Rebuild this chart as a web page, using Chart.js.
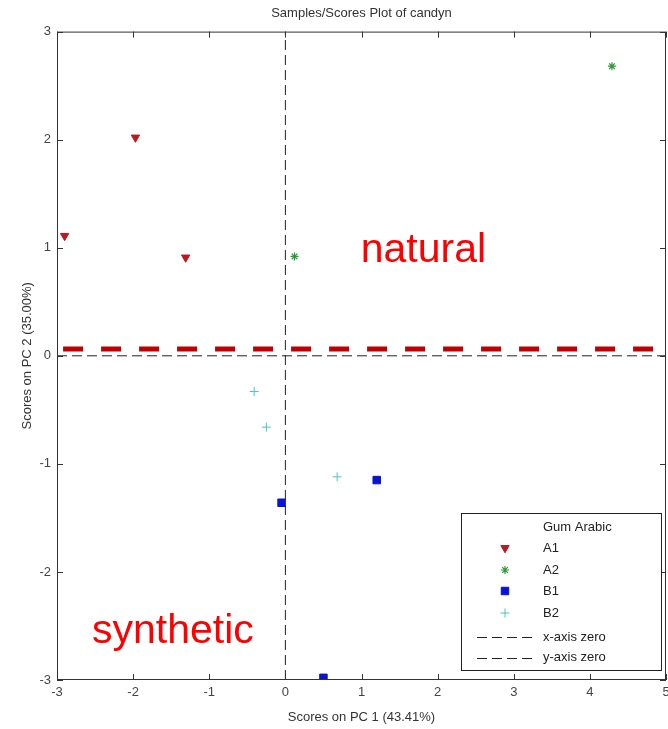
<!DOCTYPE html>
<html>
<head>
<meta charset="utf-8">
<script src="https://cdn.jsdelivr.net/npm/chart.js@4.4.1/dist/chart.umd.min.js"></script>
<style>
  body { margin: 0; background: #ffffff; }
  canvas { display: block; }
</style>
</head>
<body>
<canvas id="grafica" width="668" height="729"></canvas>
<script>
// Datos
const a1X = [-2.90, -1.97, -1.31];
const a1Y = [1.11, 2.02, 0.91];
const a2X = [0.12, 4.29];
const a2Y = [0.92, 2.68];
const b1X = [-0.05, 1.20, 0.50];
const b1Y = [-1.36, -1.15, -2.98];
const b2X = [-0.41, -0.25, 0.68];
const b2Y = [-0.33, -0.66, -1.12];

const xTicks = [-3, -2, -1, 0, 1, 2, 3, 4, 5];
const yTicks = [-3, -2, -1, 0, 1, 2, 3];

// línea roja que separa natural / sintético
const divisorX = [-2.92, 4.89];
const divisorY = 0.063;

const legendTitle = 'Gum Arabic';
const notas = [
    { texto: 'natural', x: 0.99, y: 0.87 },
    { texto: 'synthetic', x: -2.54, y: -2.66 }
];

const FUENTE = '"Liberation Sans", Arial, sans-serif';
Chart.defaults.font.family = FUENTE;

// Función para juntar arreglos x / y en puntos
function puntos(xs, ys) {
    return xs.map((x, i) => ({ x: x, y: ys[i] }));
}

const ctx = document.getElementById('grafica').getContext('2d');

// Plugin: marco, marcas hacia adentro, textos y leyenda estilo Matlab
const estiloMatlab = {
    id: 'estiloMatlab',
    afterDatasetsDraw(chart) {
        const c = chart.ctx;
        const area = chart.chartArea;
        const sx = chart.scales.x;
        const sy = chart.scales.y;

        // textos rojos
        c.save();
        c.fillStyle = '#ff0000';
        c.font = '41px ' + FUENTE;
        c.textBaseline = 'alphabetic';
        c.textAlign = 'left';
        notas.forEach(n => {
            c.fillText(n.texto, sx.getPixelForValue(n.x), sy.getPixelForValue(n.y));
        });
        c.restore();

        // marco y marcas
        c.save();
        c.strokeStyle = '#333333';
        c.lineWidth = 1;
        c.strokeRect(area.left + 0.5, area.top + 0.5, area.right - area.left - 1, area.bottom - area.top - 1);
        c.beginPath();
        xTicks.forEach(v => {
            const px = Math.round(sx.getPixelForValue(v)) + 0.5;
            c.moveTo(px, area.bottom); c.lineTo(px, area.bottom - 6);
            c.moveTo(px, area.top); c.lineTo(px, area.top + 6);
        });
        yTicks.forEach(v => {
            const py = Math.round(sy.getPixelForValue(v)) + 0.5;
            c.moveTo(area.left, py); c.lineTo(area.left + 6, py);
            c.moveTo(area.right, py); c.lineTo(area.right - 6, py);
        });
        c.stroke();
        c.restore();

        // leyenda
        const caja = { left: 461, top: 513, right: 662, bottom: 671 };
        c.save();
        c.fillStyle = '#ffffff';
        c.fillRect(caja.left, caja.top, caja.right - caja.left, caja.bottom - caja.top);
        c.strokeStyle = '#222222';
        c.lineWidth = 1;
        c.strokeRect(caja.left + 0.5, caja.top + 0.5, caja.right - caja.left - 1, caja.bottom - caja.top - 1);
        c.font = '13px ' + FUENTE;
        c.fillStyle = '#222222';
        c.textBaseline = 'middle';
        c.textAlign = 'left';
        c.fillText(legendTitle, 543, 527);

        const filas = [548, 570, 591, 613, 637, 657.5];
        let k = 0;
        chart.data.datasets.forEach(ds => {
            if (!ds.enLeyenda) return;
            const yy = filas[k++];
            if (ds.showLine) {
                c.save();
                c.strokeStyle = ds.borderColor;
                c.lineWidth = ds.borderWidth;
                c.setLineDash(ds.borderDash || []);
                c.beginPath();
                c.moveTo(477, Math.round(yy) + 0.5);
                c.lineTo(533, Math.round(yy) + 0.5);
                c.stroke();
                c.restore();
            } else {
                c.save();
                c.fillStyle = ds.pointBackgroundColor;
                c.strokeStyle = ds.pointBorderColor;
                c.lineWidth = ds.pointBorderWidth;
                Chart.helpers.drawPoint(c, {
                    pointStyle: ds.pointStyle,
                    rotation: ds.pointRotation || 0,
                    radius: ds.pointRadius,
                    borderWidth: ds.pointBorderWidth
                }, 505, yy);
                c.restore();
            }
            c.fillStyle = '#222222';
            c.fillText(ds.label, 543, yy);
        });
        c.restore();
    }
};

function serieMarcador(label, xs, ys, estilo, color, radio, rotacion, borde) {
    return {
        label: label,
        data: puntos(xs, ys),
        showLine: false,
        pointStyle: estilo,
        pointRotation: rotacion,
        pointRadius: radio,
        pointBackgroundColor: color,
        pointBorderColor: color,
        pointBorderWidth: borde,
        enLeyenda: true
    };
}

const chart = new Chart(ctx, {
    type: 'scatter',
    data: {
        datasets: [
            {
                label: 'divisor',
                data: puntos(divisorX, [divisorY, divisorY]),
                showLine: true,
                borderColor: '#c00000',
                borderWidth: 5,
                borderDash: [20, 18],
                pointRadius: 0,
                enLeyenda: false
            },
            serieMarcador('A1', a1X, a1Y, 'triangle', '#b81a22', 4.8, 180, 1),
            serieMarcador('A2', a2X, a2Y, 'star', '#2e9a3a', 4, 0, 1.2),
            serieMarcador('B1', b1X, b1Y, 'rect', '#0a14d2', 5.3, 0, 1),
            serieMarcador('B2', b2X, b2Y, 'cross', '#4cc4c4', 4.5, 0, 1),
            {
                label: 'x-axis zero',
                data: [{ x: xTicks[0], y: 0 }, { x: xTicks[xTicks.length - 1], y: 0 }],
                showLine: true,
                borderColor: '#222222',
                borderWidth: 1,
                borderDash: [10, 5],
                pointRadius: 0,
                enLeyenda: true
            },
            {
                label: 'y-axis zero',
                data: [{ x: 0, y: yTicks[0] }, { x: 0, y: yTicks[yTicks.length - 1] }],
                showLine: true,
                borderColor: '#222222',
                borderWidth: 1,
                borderDash: [10, 5],
                pointRadius: 0,
                enLeyenda: true
            }
        ]
    },
    options: {
        responsive: false,
        animation: false,
        layout: { autoPadding: false, padding: { left: 0, right: 2, top: 0, bottom: 0 } },
        plugins: {
            legend: { display: false },
            tooltip: { enabled: false },
            title: {
                display: true,
                text: 'Samples/Scores Plot of candyn',
                fullSize: false,
                color: '#333333',
                font: { size: 13, weight: 'normal' },
                padding: { top: 6, bottom: 10 }
            }
        },
        scales: {
            x: {
                type: 'linear',
                min: xTicks[0],
                max: xTicks[xTicks.length - 1],
                afterBuildTicks: (s) => { s.ticks = xTicks.map(v => ({ value: v })); },
                ticks: {
                    color: '#444444',
                    font: { size: 13 },
                    padding: 5,
                    maxRotation: 0,
                    callback: (v) => String(v)
                },
                grid: { display: false, drawTicks: false },
                border: { display: false },
                title: {
                    display: true,
                    text: 'Scores on PC 1 (43.41%)',
                    color: '#333333',
                    font: { size: 13 },
                    padding: { top: 0, bottom: 4 }
                },
                afterFit: (s) => {
                    s.height = 49;
                    s.paddingLeft = 0; s.paddingRight = 0;
                }
            },
            y: {
                type: 'linear',
                min: yTicks[0],
                max: yTicks[yTicks.length - 1],
                afterBuildTicks: (s) => { s.ticks = yTicks.map(v => ({ value: v })); },
                ticks: {
                    color: '#444444',
                    font: { size: 13 },
                    padding: 6,
                    callback: (v) => String(v)
                },
                grid: { display: false, drawTicks: false },
                border: { display: false },
                title: {
                    display: true,
                    text: 'Scores on PC 2 (35.00%)',
                    color: '#333333',
                    font: { size: 13 },
                    padding: { top: 20, bottom: 0 }
                },
                afterFit: (s) => {
                    s.width = 57;
                    s.paddingTop = 0; s.paddingBottom = 0;
                }
            }
        }
    },
    plugins: [estiloMatlab]
});
</script>
</body>
</html>
